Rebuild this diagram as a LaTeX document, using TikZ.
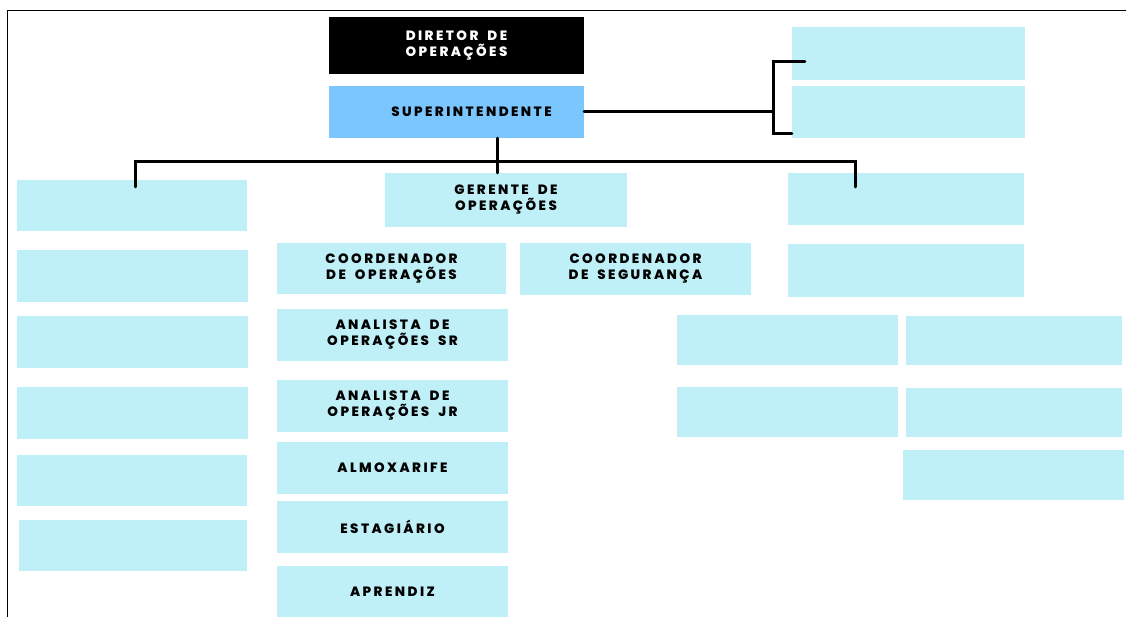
\documentclass[tikz,border=0pt]{standalone}
\usepackage{fontspec}
\setmainfont{Poppins}[LetterSpace=18, WordSpace=1.8, BoldFont={Poppins ExtraBold}]
\usetikzlibrary{calc,positioning}

\definecolor{caixa}{RGB}{191,239,247}
\definecolor{superazul}{RGB}{124,198,255}

\tikzset{
  cargo/.style={rectangle, fill=caixa, inner sep=0pt, align=center,
    font=\fontsize{13.5}{16}\selectfont\bfseries},
  chefe/.style={cargo, fill=black, text=white},
  liga/.style={line width=3pt, line cap=round, line join=miter}
}

\begin{document}
\begin{tikzpicture}[x=1pt,y=-1pt]
\useasboundingbox (0,0) rectangle (1126,617);
% frame
\draw[line width=1pt] (7,617) -- (7,11) -- (1126,11);
% define top of the chart
\node[chefe, minimum width=255, minimum height=57] (dir) at (456.5,45.5) {DIRETOR DE\\OPERAÇÕES};
\node[cargo, fill=superazul, minimum width=255, minimum height=52] (sup) at (456.5,112) {\hspace*{30pt}SUPERINTENDENTE};
% boxes on the right of the superintendent
\node[cargo, minimum width=233, minimum height=53] (ra) at (908.5,53.5) {};
\node[cargo, minimum width=233, minimum height=52] (rb) at (908.5,112) {};
% left column
\node[cargo, minimum width=230, minimum height=51] (la) at (132,205.5) {};
\node[cargo, minimum width=231, minimum height=52] (lb) at (132.5,276) {};
\node[cargo, minimum width=231, minimum height=52] (lc) at (132.5,342) {};
\node[cargo, minimum width=231, minimum height=52] (ld) at (132.5,413) {};
\node[cargo, minimum width=230, minimum height=51] (le) at (132,480.5) {};
\node[cargo, minimum width=228, minimum height=51] (lf) at (133,545.5) {};
% middle column
\node[cargo, minimum width=242, minimum height=54] (ger) at (506,200) {GERENTE DE\\OPERAÇÕES};
\node[cargo, minimum width=229, minimum height=51] (coop) at (391.5,268.5) {COORDENADOR\\DE OPERAÇÕES};
\node[cargo, minimum width=231, minimum height=52] (coseg) at (635.5,269) {COORDENADOR\\DE SEGURANÇA};
\node[cargo, minimum width=231, minimum height=52] (ansr) at (392.5,335) {ANALISTA DE\\OPERAÇÕES SR};
\node[cargo, minimum width=231, minimum height=52] (anjr) at (392.5,406) {ANALISTA DE\\OPERAÇÕES JR};
\node[cargo, minimum width=231, minimum height=52] (alm) at (392.5,468) {ALMOXARIFE};
\node[cargo, minimum width=231, minimum height=52] (est) at (392.5,527) {ESTAGIÁRIO};
\node[cargo, minimum width=231, minimum height=51] (apr) at (392.5,591.5) {APRENDIZ};
% right column
\node[cargo, minimum width=236, minimum height=52] (ma) at (906,199) {};
\node[cargo, minimum width=236, minimum height=53] (mb) at (906,270.5) {};
\node[cargo, minimum width=221, minimum height=50] (na) at (787.5,340) {};
\node[cargo, minimum width=221, minimum height=50] (nb) at (787.5,412) {};
\node[cargo, minimum width=216, minimum height=49] (oa) at (1014,340.5) {};
\node[cargo, minimum width=216, minimum height=49] (ob) at (1014,412.5) {};
\node[cargo, minimum width=221, minimum height=50] (oc) at (1013.5,475) {};
% connectors
\coordinate (hub) at ($(sup.south)+(40.5,24)$);
\coordinate (esq) at (135,162);
\coordinate (dir2) at (855,162);
\draw[liga] ($(sup.south)+(40.5,0)$) -- (ger.north -| hub);
\draw[liga] (esq |- la.north) ++(0,7) -- (esq) -- (dir2) -- ++(0,25);
\coordinate (chave) at (773,112);
\draw[liga] (sup.east) -- (chave);
\draw[liga] ($(ra.west)+(13,8.5)$) -- ($(ra.west -| chave)+(0,8.5)$) -- ($(rb.west -| chave)+(0,22)$) -- ($(rb.west)+(0,22)$);
\end{tikzpicture}
\end{document}
